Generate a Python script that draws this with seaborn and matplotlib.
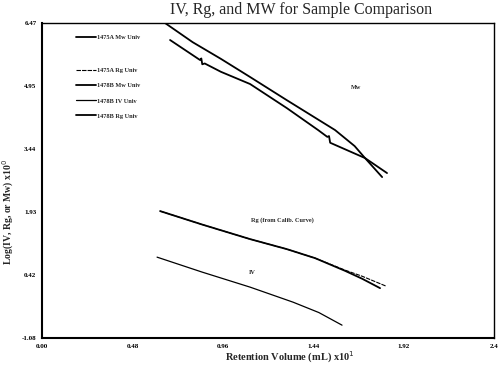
import matplotlib
matplotlib.use("Agg")
import matplotlib.pyplot as plt
import seaborn as sns
import pandas as pd
from matplotlib.lines import Line2D

sns.set_theme(style="white")
plt.rcParams['font.family'] = ['Liberation Serif', 'DejaVu Serif']

# ---- data ----
mwA_x = [0.64, 0.653, 0.80, 0.95, 1.105, 1.30, 1.556, 1.66, 1.715, 1.806]
mwA_y = [6.50, 6.47, 6.01, 5.61, 5.175, 4.62, 3.904, 3.52, 3.233, 2.777]

mwB_x = [0.680, 0.839, 0.846, 0.851, 0.864, 0.95, 1.105, 1.30, 1.466, 1.515, 1.524, 1.530, 1.715, 1.832]
mwB_y = [6.062, 5.583, 5.62, 5.48, 5.50, 5.30, 5.007, 4.43, 3.904, 3.74, 3.76, 3.60, 3.233, 2.873]

rgA_x = [0.627, 0.85, 1.105, 1.30, 1.450, 1.609, 1.70, 1.827]
rgA_y = [1.962, 1.64, 1.29, 1.05, 0.834, 0.547, 0.40, 0.163]

rgB_x = [0.627, 0.85, 1.105, 1.30, 1.450, 1.609, 1.70, 1.795]
rgB_y = [1.962, 1.64, 1.29, 1.05, 0.834, 0.530, 0.34, 0.115]

iv_x = [0.611, 0.85, 1.105, 1.333, 1.47, 1.593]
iv_y = [0.858, 0.50, 0.139, -0.221, -0.47, -0.772]

x_ticks = [0.00, 0.48, 0.96, 1.44, 1.92, 2.40]
x_tick_labels = ["0.00", "0.48", "0.96", "1.44", "1.92", "2.4"]
y_ticks = [-1.08, 0.43, 1.94, 3.45, 4.96, 6.47]
y_tick_labels = ["-1.08", "0.42", "1.93", "3.44", "4.95", "6.47"]

fig = plt.figure(figsize=(4.98, 3.69), dpi=100)
ax = fig.add_axes([0.0843, 0.084, 0.9077, 0.8537])

series = [
    ("1475A Mw Univ", mwA_x, mwA_y, 1.3, "-"),
    ("1475A Rg Univ", rgA_x, rgA_y, 0.8, (0, (4, 1))),
    ("1478B Mw Univ", mwB_x, mwB_y, 1.3, "-"),
    ("1478B IV Univ", iv_x, iv_y, 0.9, "-"),
    ("1478B Rg Univ", rgB_x, rgB_y, 1.3, "-"),
]
handles = []
for name, xs, ys, lw, ls in series:
    df = pd.DataFrame({"x": xs, "y": ys})
    sns.lineplot(data=df, x="x", y="y", ax=ax, sort=False, estimator=None,
                 color="black", linewidth=lw, linestyle=ls)
    handles.append(Line2D([0], [0], color="black", lw=lw, linestyle=ls))

ax.set_xlim(0, 2.4)
ax.set_ylim(-1.08, 6.47)
ax.set_xticks(x_ticks)
ax.set_xticklabels(x_tick_labels)
ax.set_yticks(y_ticks)
ax.set_yticklabels(y_tick_labels)
ax.minorticks_on()
ax.tick_params(axis='both', which='major', direction='out', length=3, width=1,
               labelsize=5, pad=1, colors='black')
ax.tick_params(axis='both', which='minor', direction='in', length=1.5, width=0.6)
ax.tick_params(axis='y', which='minor', left=False, right=False)
for lab in ax.get_xticklabels() + ax.get_yticklabels():
    lab.set_fontweight('bold')

for s in ['left', 'bottom']:
    ax.spines[s].set_linewidth(1.5)
    ax.spines[s].set_color('black')
for s in ['top', 'right']:
    ax.spines[s].set_linewidth(1.0)
    ax.spines[s].set_color('black')

ax.set_xlabel("Retention Volume (mL) x10$^1$", fontsize=7.5, fontweight='bold', va='center')
ax.xaxis.set_label_coords(0.549, -0.06)
ax.set_ylabel("Log(IV, Rg, or Mw) x10$^0$", fontsize=7, fontweight='bold', va='center')
ax.yaxis.set_label_coords(-0.075, 0.40)

fig.text(0.604, 0.972, "IV, Rg, and MW for Sample Comparison", ha='center', va='center',
         fontsize=11.5)

# annotations
ax.text(1.64, 4.93, "Mw", fontsize=4.5, fontweight='bold', va='center')
ax.text(1.11, 1.75, "Rg (from Calib. Curve)", fontsize=4.5, fontweight='bold', va='center')
ax.text(1.10, 0.50, "IV", fontsize=4.5, fontweight='bold', va='center')

leg1 = ax.legend([handles[0]], [series[0][0]], loc='upper left',
                 bbox_to_anchor=(0.07, 0.97), frameon=False, fontsize=4.5,
                 handlelength=3.2, handletextpad=0.1, borderaxespad=0)
for t in leg1.get_texts():
    t.set_fontweight('bold')
ax.add_artist(leg1)
leg2 = ax.legend(handles[1:], [s[0] for s in series[1:]], loc='upper left',
                 bbox_to_anchor=(0.07, 0.865), frameon=False, fontsize=4.5,
                 handlelength=3.2, handletextpad=0.1, labelspacing=1.55, borderaxespad=0)
for t in leg2.get_texts():
    t.set_fontweight('bold')

fig.savefig("out.png", dpi=100)
